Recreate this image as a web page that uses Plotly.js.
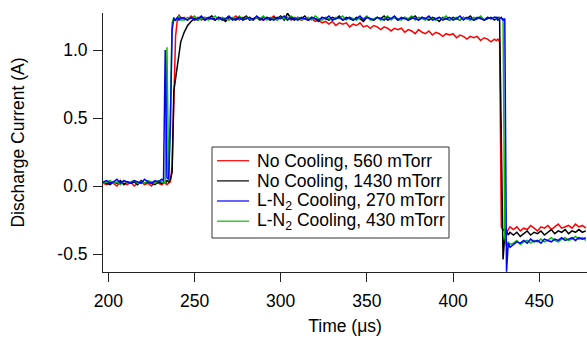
<!DOCTYPE html>
<html>
<head>
<meta charset="utf-8">
<script src="https://cdn.plot.ly/plotly-3.0.1.min.js"></script>
<style>
html,body{margin:0;padding:0;background:#fff;}
#chart{width:587px;height:339px;}
</style>
</head>
<body>
<div id="chart"></div>
<script>
// Time in microseconds
const timeUs = [197,199,201,203,205,207,209,211,213,215,217,219,221,223,225,227,229,231,
232,233,234,235,236,237,238,239,240,241,242,
244,246,248,250,252,254,256,258,260,262,264,266,268,270,272,274,276,278,280,282,284,286,288,290,292,294,296,298,300,302,304,306,308,310,312,314,316,318,320,322,324,326,328,330,332,334,336,338,340,342,344,346,348,350,352,354,356,358,360,362,364,366,368,370,372,374,376,378,380,382,384,386,388,390,392,394,396,398,400,402,404,406,408,410,412,414,416,418,420,422,424,
425,426,427,428,429,430,431,432,433,
435,437,439,441,443,445,447,449,451,453,455,457,459,461,463,465,467,469,471,473,475,477];

const noCooling560 = [0.02,0.01,0.03,0.02,0.00,0.03,0.02,0.01,0.03,0.00,0.02,0.03,0.01,0.02,0.00,0.03,0.02,0.01,
0.02,0.03,0.01,0.02,0.03,0.15,0.75,1.10,1.22,1.26,1.23,
1.24,1.22,1.25,1.23,1.24,1.22,1.24,1.23,1.25,1.22,
1.24,1.23,1.22,1.24,1.23,1.25,1.22,1.24,1.23,1.24,
1.22,1.24,1.23,1.22,1.24,1.23,1.25,1.22,1.24,1.23,
1.24,1.22,1.24,1.23,1.22,1.23,1.22,1.23,1.21,1.22,
1.20,1.21,1.19,1.21,1.18,1.20,1.19,1.20,1.17,1.19,
1.18,1.20,1.17,1.18,1.16,1.18,1.17,1.15,1.17,1.16,
1.14,1.16,1.15,1.16,1.13,1.15,1.14,1.12,1.15,1.13,
1.12,1.14,1.11,1.13,1.12,1.10,1.12,1.11,1.12,1.09,
1.11,1.10,1.08,1.10,1.09,1.10,1.07,1.09,1.08,1.06,
1.08,
1.07,1.08,1.06,-0.30,-0.33,-0.31,-0.34,-0.32,-0.30,
-0.32,-0.30,-0.33,-0.31,-0.32,-0.29,-0.31,-0.33,-0.30,-0.31,-0.29,-0.32,-0.30,-0.28,-0.31,-0.30,-0.29,-0.31,-0.28,-0.30,-0.29,-0.31];

const noCooling1430 = [0.03,0.02,0.01,0.03,0.02,0.04,0.01,0.03,0.02,0.03,0.01,0.04,0.02,0.03,0.02,0.01,0.03,0.02,
0.03,0.02,0.04,0.03,0.05,0.10,0.70,0.80,0.88,1.00,1.06,
1.13,1.18,1.21,1.23,1.22,1.24,1.22,1.23,1.25,1.22,
1.24,1.23,1.21,1.24,1.23,1.22,1.24,1.23,1.25,1.22,
1.23,1.24,1.22,1.24,1.23,1.22,1.24,1.23,1.25,1.22,
1.27,1.23,1.22,1.24,1.23,1.25,1.22,1.24,1.23,1.21,
1.24,1.23,1.22,1.24,1.23,1.25,1.22,1.24,1.23,1.22,
1.24,1.23,1.21,1.24,1.23,1.22,1.24,1.23,1.25,1.22,
1.23,1.24,1.22,1.23,1.24,1.22,1.23,1.25,1.22,1.24,
1.23,1.22,1.24,1.23,1.21,1.24,1.23,1.22,1.24,1.23,
1.22,1.24,1.23,1.25,1.22,1.23,1.24,1.22,1.23,1.24,
1.22,
1.23,1.24,1.22,0.30,-0.54,-0.36,-0.33,-0.36,-0.34,
-0.36,-0.34,-0.37,-0.35,-0.33,-0.36,-0.34,-0.35,-0.33,-0.36,-0.34,-0.32,-0.35,-0.33,-0.34,-0.32,-0.35,-0.33,-0.34,-0.32,-0.34,-0.33];

const ln2Cooling270 = [0.03,0.04,0.02,0.03,0.05,0.02,0.04,0.03,0.02,0.04,0.03,0.02,0.05,0.03,0.02,0.04,0.03,0.05,
0.04,1.00,0.06,0.05,0.45,1.15,1.23,1.22,1.24,1.22,1.24,
1.23,1.22,1.24,1.22,1.23,1.25,1.22,1.24,1.23,1.22,
1.24,1.22,1.23,1.25,1.22,1.23,1.24,1.22,1.23,1.24,
1.22,1.25,1.23,1.22,1.24,1.23,1.22,1.24,1.23,1.25,
1.22,1.24,1.23,1.22,1.24,1.23,1.22,1.24,1.23,1.22,
1.24,1.23,1.25,1.22,1.23,1.24,1.22,1.23,1.24,1.22,
1.23,1.25,1.22,1.24,1.23,1.22,1.24,1.23,1.22,1.24,
1.23,1.25,1.22,1.24,1.23,1.22,1.24,1.23,1.22,1.24,
1.23,1.25,1.22,1.23,1.24,1.22,1.23,1.24,1.22,1.23,
1.25,1.22,1.24,1.23,1.22,1.24,1.23,1.22,1.24,1.23,
1.24,
1.24,1.22,1.23,1.24,1.22,1.23,-0.63,-0.42,-0.45,
-0.43,-0.41,-0.42,-0.40,-0.42,-0.39,-0.41,-0.40,-0.42,-0.39,-0.40,-0.41,-0.39,-0.40,-0.38,-0.40,-0.39,-0.38,-0.40,-0.38,-0.39,-0.38];

const ln2Cooling430 = [0.02,0.03,0.04,0.02,0.03,0.01,0.04,0.02,0.03,0.04,0.02,0.03,0.02,0.04,0.03,0.02,0.04,0.03,
0.03,0.02,1.02,0.04,0.55,1.20,1.24,1.22,1.23,1.25,1.22,
1.22,1.24,1.23,1.25,1.22,1.23,1.24,1.22,1.23,1.25,
1.22,1.24,1.23,1.22,1.24,1.23,1.25,1.22,1.24,1.23,
1.22,1.24,1.23,1.25,1.22,1.24,1.23,1.22,1.24,1.23,
1.22,1.25,1.23,1.24,1.22,1.23,1.24,1.22,1.25,1.23,
1.22,1.24,1.23,1.22,1.24,1.23,1.25,1.22,1.24,1.23,
1.22,1.24,1.23,1.25,1.22,1.23,1.24,1.22,1.23,1.25,
1.22,1.24,1.23,1.22,1.24,1.23,1.25,1.22,1.24,1.23,
1.22,1.24,1.23,1.22,1.24,1.23,1.25,1.22,1.23,1.24,
1.22,1.24,1.23,1.22,1.24,1.23,1.25,1.22,1.24,1.23,
1.24,
1.23,1.22,1.24,1.23,1.23,-0.38,-0.44,-0.41,-0.43,
-0.42,-0.40,-0.43,-0.41,-0.40,-0.42,-0.40,-0.41,-0.39,-0.41,-0.40,-0.38,-0.40,-0.41,-0.39,-0.38,-0.40,-0.39,-0.37,-0.39,-0.38,-0.40];

const seriesNames = ['No Cooling, 560 mTorr','No Cooling, 1430 mTorr','L-N<sub>2</sub> Cooling, 270 mTorr','L-N<sub>2</sub> Cooling, 430 mTorr'];
const seriesColors = ['#ff0000','#000000','#0000ff','#00c000'];
const xTicks = [200,250,300,350,400,450];
const yTicks = [-0.5,0,0.5,1.0];
const yTickText = ['-0.5','0.0','0.5','1.0'];

const FONT = 'Arial, "Liberation Sans", sans-serif';
const lw = 1.5;
const seriesData = [noCooling560, noCooling1430, ln2Cooling270, ln2Cooling430];
const drawOrder = [0, 1, 3, 2];
const traces = drawOrder.map(i => ({
  type:'scatter', mode:'lines', x: timeUs, y: seriesData[i],
  name: seriesNames[i], line:{color: seriesColors[i], width: lw}, showlegend:false
}));

// Legend drawn in plot-area pixel space (converted to paper fractions)
const PL = 103, PT = 13, PW = 484, PH = 259;
const fx = px => (px - PL) / PW;
const fy = py => 1 - (py - PT) / PH;
const legBox = {x0: 212, x1: 449, y0: 147, y1: 238};
const legRowY = [160.7, 180.9, 201.0, 221.2];
const shapes = [{
  type:'rect', xref:'paper', yref:'paper',
  x0: fx(legBox.x0), x1: fx(legBox.x1), y0: fy(legBox.y1), y1: fy(legBox.y0),
  line:{color:'#333', width:1}, fillcolor:'#fff', layer:'above'
}];
const annotations = [];
legRowY.forEach((py, i) => {
  shapes.push({type:'line', xref:'paper', yref:'paper', x0: fx(217), x1: fx(249), y0: fy(py), y1: fy(py),
    line:{color: seriesColors[i], width:1.2}, layer:'above'});
  annotations.push({xref:'paper', yref:'paper', x: fx(255.5), y: fy(py + 0.5), xanchor:'left', yanchor:'middle',
    text: seriesNames[i], showarrow:false, font:{family: FONT, size:17.5, color:'#000'}, borderpad:0});
});

const layout = {
  width: 587, height: 339,
  margin: {l:103, r:0, t:13, b:67, pad:0},
  paper_bgcolor:'#fff', plot_bgcolor:'#fff',
  font: {family: FONT, size: 17, color:'#000'},
  showlegend: false,
  shapes: shapes,
  annotations: annotations,
  xaxis: {
    range:[196.9, 477.7], tickvals: xTicks, ticktext: xTicks.map(String),
    showline:true, linecolor:'#222', linewidth:1, mirror:false,
    ticks:'outside', ticklen:9, tickcolor:'#222', tickwidth:1,
    showgrid:false, zeroline:false, ticklabelstandoff:4,
    tickfont:{family: FONT, size:17.5},
    title:{text:'Time (μs)', font:{family: FONT, size:17.5}, standoff:9}
  },
  yaxis: {
    range:[-0.632, 1.272], tickvals: yTicks, ticktext: yTickText,
    showline:true, linecolor:'#222', linewidth:1, mirror:false,
    ticks:'outside', ticklen:9, tickcolor:'#222', tickwidth:1,
    showgrid:false, zeroline:false, ticklabelstandoff:2,
    tickfont:{family: FONT, size:17.5},
    title:{text:'Discharge Current (A)', font:{family: FONT, size:17.5}, standoff:28}
  }
};

Plotly.newPlot('chart', traces, layout, {displayModeBar:false, staticPlot:true});
</script>
</body>
</html>
